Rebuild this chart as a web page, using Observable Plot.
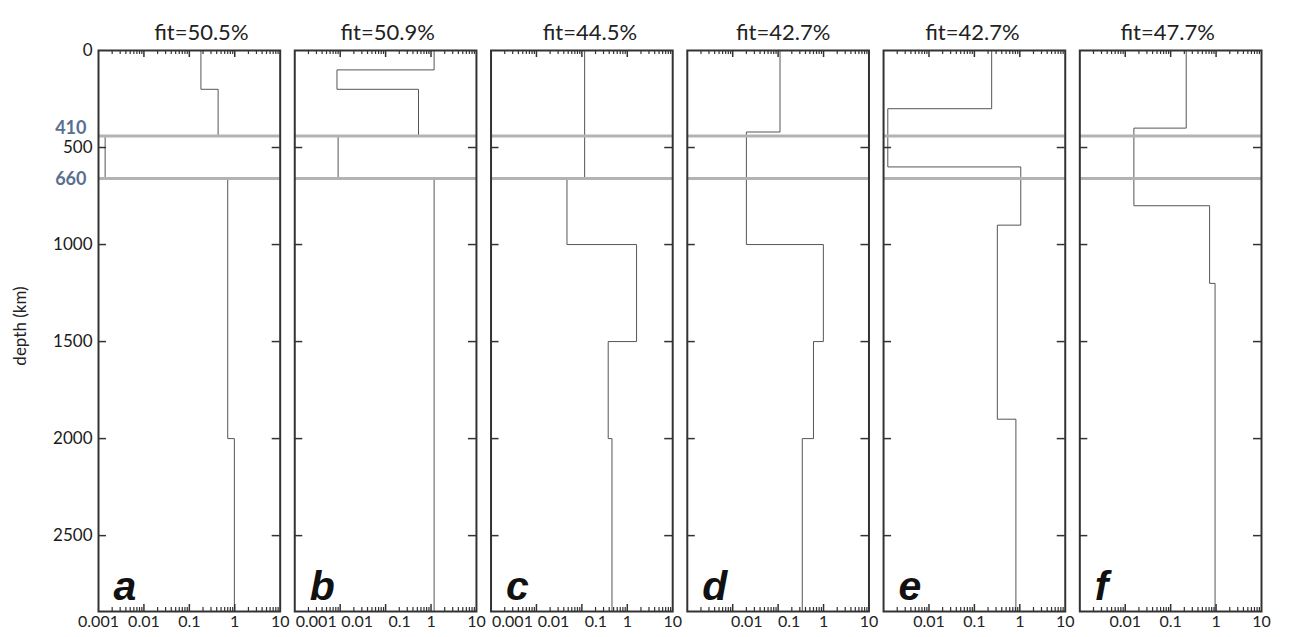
<!DOCTYPE html>
<html><head><meta charset="utf-8">
<script src="https://cdn.jsdelivr.net/npm/d3@7"></script>
<script src="https://cdn.jsdelivr.net/npm/@observablehq/plot@0.6"></script>
<style>body{margin:0;background:#fff;}</style>
</head><body><div id="chart"></div>
<script>
// ---- data ----
const panels = ["a", "b", "c", "d", "e", "f"];
const fitTitles = ["fit=50.5%", "fit=50.9%", "fit=44.5%", "fit=42.7%", "fit=42.7%", "fit=47.7%"];

const topsA = [0, 200, 440, 660, 2000];
const valsA = [0.18, 0.43, 0.0014, 0.70, 0.98];
const topsB = [0, 100, 200, 440, 660];
const valsB = [1.17, 0.0085, 0.53, 0.009, 1.17];
const topsC = [0, 660, 1000, 1500, 2000];
const valsC = [0.115, 0.047, 1.6, 0.38, 0.46];
const topsD = [0, 420, 1000, 1500, 2000];
const valsD = [0.11, 0.020, 0.99, 0.60, 0.34];
const topsE = [0, 300, 600, 900, 1900];
const valsE = [0.24, 0.00124, 1.05, 0.32, 0.82];
const topsF = [0, 400, 800, 1200];
const valsF = [0.22, 0.0155, 0.72, 0.95];
const cmbDepth = 2891;

const discLineDepths = [440, 660];
const discLabels = ["410", "660"];
const discLabelDepths = [400, 662];

const yTickValues = [500, 1000, 1500, 2000, 2500];
const yLabelValues = [0, 500, 1000, 1500, 2000, 2500];
const yAxisLabel = "depth (km)";

const xMajorTicks = [0.01, 0.1, 1];
const xMinorTicks = [0.002, 0.003, 0.004, 0.005, 0.006, 0.007, 0.008, 0.009,
                     0.02, 0.03, 0.04, 0.05, 0.06, 0.07, 0.08, 0.09,
                     0.2, 0.3, 0.4, 0.5, 0.6, 0.7, 0.8, 0.9,
                     2, 3, 4, 5, 6, 7, 8, 9];
const xLabelsFull = [0.001, 0.01, 0.1, 1, 10];
const xLabelsShort = [0.01, 0.1, 1, 10];
const fullLabelPanels = ["a", "b", "c"];

// ---- layout (pixel nudges, kept apart from the data) ----
const titleNudge = {a: 12, b: 2, c: 8, d: 5, e: -2, f: -3};
const labelNudge = {b: {0.01: 17, 0.1: 14}, c: {0.01: 17, 0.1: 14}, d: {0.01: 14, 0.1: 11}};

// ---- build tables ----
const profiles = [[topsA, valsA], [topsB, valsB], [topsC, valsC], [topsD, valsD], [topsE, valsE], [topsF, valsF]];
const rows = [];
panels.forEach((p, i) => {
  const [t, v] = profiles[i];
  t.forEach((d, j) => rows.push({panel: p, depth: d, value: v[j]}));
  rows.push({panel: p, depth: cmbDepth, value: v[v.length - 1]});
});
const titleRows = panels.map((p, i) => ({panel: p, title: fitTitles[i]}));
const labelRows = panels.flatMap(p =>
  (fullLabelPanels.includes(p) ? xLabelsFull : xLabelsShort).map(v => ({panel: p, value: v})));
const startLabels = labelRows.filter(d => d.panel !== "a" && d.value === 0.001);
const centerLabels = labelRows.filter(d => !startLabels.includes(d));

const W = 1290, H = 637, mt = 50, mb = 26, ml = 98, mr = 29;
const pInner = 0.0743;
const step = (W - ml - mr) / (panels.length - pInner);
const bw = step * (1 - pInner);
const frameH = H - mt - mb;
const ink = "#333";
const xFont = 16;

const chart = Plot.plot({
  width: W, height: H,
  marginTop: mt, marginBottom: mb, marginLeft: ml, marginRight: mr,
  style: {fontFamily: "Lato, 'Open Sans', sans-serif", fontSize: "17px", color: "#222", background: "#fff"},
  fx: {domain: panels, paddingInner: pInner, paddingOuter: 0, axis: null, round: false},
  x: {type: "log", domain: [0.001, 10], axis: null},
  y: {domain: [0, cmbDepth], reverse: true},
  marks: [
    Plot.line(rows, {x: "value", y: "depth", fx: "panel", curve: "step-before", stroke: "#555", strokeWidth: 1}),
    Plot.ruleY(discLineDepths, {y: d => d, stroke: "#b3b3b3", strokeWidth: 3}),
    Plot.tickX(xMinorTicks, {x: d => d, insetTop: frameH - 4, stroke: ink, strokeWidth: 1.2}),
    Plot.tickX(xMinorTicks, {x: d => d, insetBottom: frameH - 4, stroke: ink, strokeWidth: 1.2}),
    Plot.tickX(xMajorTicks, {x: d => d, insetTop: frameH - 7, stroke: ink, strokeWidth: 1.5}),
    Plot.tickX(xMajorTicks, {x: d => d, insetBottom: frameH - 7, stroke: ink, strokeWidth: 1.5}),
    Plot.tickY(yTickValues, {y: d => d, insetRight: bw - 8, stroke: ink, strokeWidth: 1.5}),
    Plot.tickY(yTickValues, {y: d => d, insetLeft: bw - 8, stroke: ink, strokeWidth: 1.5}),
    Plot.frame({stroke: ink, strokeWidth: 2}),
    Plot.axisY(yLabelValues, {anchor: "left", tickSize: 0, tickPadding: 6, fontSize: 17, label: null, tickFormat: d => String(d), fill: "#1a1a1a"}),
    Plot.text([yAxisLabel], {text: d => d, fx: () => "a", frameAnchor: "left", dx: -78, dy: -5, rotate: -90,
      textAnchor: "middle", fontSize: 17, fill: "#222"}),
    Plot.text(discLabels, {text: d => d, y: (d, i) => discLabelDepths[i], fx: () => "a", frameAnchor: "left",
      dx: -12, textAnchor: "end", fill: "#5a6f8f", fontWeight: "bold", fontSize: 18}),
    ...titleRows.map(r => Plot.text([r], {text: "title", fx: "panel", frameAnchor: "top", dy: -26, dx: titleNudge[r.panel], fontSize: 22, fill: "#222"})),
    Plot.text(panels, {text: d => d, fx: d => d, frameAnchor: "bottom-left", dx: 15, dy: -12,
      textAnchor: "start", lineAnchor: "bottom", fontSize: 41, fontWeight: "bold", fontStyle: "italic",
      fontFamily: "'Liberation Sans', Arial, sans-serif", fill: "#111"}),
    ...centerLabels.map(r => Plot.text([r], {x: "value", fx: "panel", text: d => String(d.value), frameAnchor: "bottom", dy: 15,
      dx: (labelNudge[r.panel] && labelNudge[r.panel][r.value]) || 0, fontSize: xFont, fill: "#222"})),
    Plot.text(startLabels, {x: "value", fx: "panel", text: d => String(d.value), frameAnchor: "bottom", dy: 15, dx: 1, textAnchor: "start", fontSize: xFont, fill: "#222"})
  ]
});
document.getElementById("chart").appendChild(chart);
</script>
</body></html>
